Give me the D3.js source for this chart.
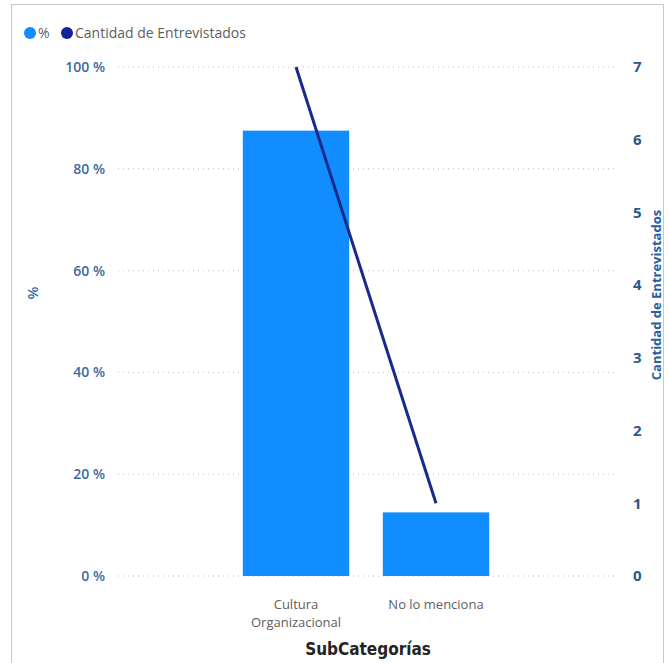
<!DOCTYPE html>
<html lang="es">
<head>
<meta charset="UTF-8">
<title>SubCategorías</title>
<script src="https://d3js.org/d3.v7.min.js"></script>
<style>
  body { margin: 0; background: #fff; }
  svg text { font-family: "Open Sans", "Noto Sans", sans-serif; }
</style>
</head>
<body>
<div id="chart"></div>
<script>
// data
var categories = ["Cultura Organizacional", "No lo menciona"];
var pctValues = [87.5, 12.5];
var countValues = [7, 1];
var pctTicks = [0, 20, 40, 60, 80, 100];
var countTicks = [0, 1, 2, 3, 4, 5, 6, 7];

var width = 668, height = 663;
var plotTop = 67, plotBottom = 576;

var svg = d3.select("#chart").append("svg")
    .attr("width", width)
    .attr("height", height);

// frame
svg.append("rect")
    .attr("x", 11.5).attr("y", 4.5)
    .attr("width", 652).attr("height", 670)
    .attr("fill", "none")
    .attr("stroke", "#c8c8c8");

var x = d3.scaleBand()
    .domain(categories)
    .range([226, 506])
    .paddingInner(0.24)
    .paddingOuter(0.12);

var yPct = d3.scaleLinear().domain([0, 100]).range([plotBottom, plotTop]);
var yCount = d3.scaleLinear().domain([0, 7]).range([plotBottom, plotTop]);

// gridlines
svg.append("g").selectAll("line")
    .data(pctTicks)
    .enter().append("line")
    .attr("x1", 118).attr("x2", 618)
    .attr("y1", function (d) { return yPct(d); })
    .attr("y2", function (d) { return yPct(d); })
    .attr("stroke", "#bdbdbd")
    .attr("stroke-width", 1)
    .attr("stroke-dasharray", "1,4");

// left axis
var leftAxis = svg.append("g")
    .attr("transform", "translate(105,0)")
    .call(d3.axisLeft(yPct).tickValues(pctTicks).tickSize(0).tickPadding(0)
        .tickFormat(function (d) { return d + " %"; }));
leftAxis.select(".domain").remove();
leftAxis.selectAll("text")
    .attr("fill", "#3a6b9f")
    .attr("font-size", 14)
    .attr("font-weight", 600)
    .style("font-family", "'Open Sans', sans-serif");

// right axis
var rightAxis = svg.append("g")
    .attr("transform", "translate(633,0)")
    .call(d3.axisRight(yCount).tickValues(countTicks).tickSize(0).tickPadding(0)
        .tickFormat(d3.format("d")));
rightAxis.select(".domain").remove();
rightAxis.selectAll("text")
    .attr("fill", "#2a5a8a")
    .attr("font-size", 15)
    .attr("font-weight", 700)
    .style("font-family", "'Open Sans', sans-serif");

// bars
svg.append("g").selectAll("rect")
    .data(categories)
    .enter().append("rect")
    .attr("x", function (d) { return x(d); })
    .attr("width", x.bandwidth())
    .attr("y", function (d, i) { return yPct(pctValues[i]); })
    .attr("height", function (d, i) { return plotBottom - yPct(pctValues[i]); })
    .attr("fill", "#118dff");

// line
var line = d3.line()
    .x(function (d) { return x(d) + x.bandwidth() / 2; })
    .y(function (d, i) { return yCount(countValues[i]); });

svg.append("path")
    .datum(categories)
    .attr("d", line)
    .attr("fill", "none")
    .attr("stroke", "#1a2a8c")
    .attr("stroke-width", 3);

// category labels
var catLines = { "Cultura Organizacional": ["Cultura", "Organizacional"], "No lo menciona": ["No lo menciona"] };
svg.append("g").selectAll("text")
    .data(categories)
    .enter().append("text")
    .attr("x", function (d) { return x(d) + x.bandwidth() / 2; })
    .attr("y", 609)
    .attr("text-anchor", "middle")
    .attr("fill", "#605e5c")
    .attr("font-size", 13)
    .each(function (d) {
        var t = d3.select(this);
        catLines[d].forEach(function (s, i) {
            t.append("tspan")
                .attr("x", x(d) + x.bandwidth() / 2)
                .attr("dy", i === 0 ? 0 : 18)
                .text(s);
        });
    });

// axis titles
svg.append("text")
    .attr("x", 368).attr("y", 655)
    .attr("text-anchor", "middle")
    .attr("fill", "#252423")
    .attr("font-size", 17)
    .attr("font-weight", 700)
    .style("font-family", "'DejaVu Sans Condensed', 'Liberation Sans Narrow', sans-serif")
    .text("SubCategorías");

svg.append("text")
    .attr("transform", "translate(38,293) rotate(-90)")
    .attr("text-anchor", "middle")
    .attr("fill", "#2f6aa8")
    .attr("font-size", 15)
    .attr("font-weight", 600)
    .text("%");

svg.append("text")
    .attr("transform", "translate(661,295) rotate(-90)")
    .attr("text-anchor", "middle")
    .attr("fill", "#2460a0")
    .attr("font-size", 13)
    .attr("font-weight", 700)
    .text("Cantidad de Entrevistados");

// legend
var legend = [
    { name: "%", color: "#118dff" },
    { name: "Cantidad de Entrevistados", color: "#12239e" }
];
var lx = [30, 67];
var lg = svg.append("g").selectAll("g")
    .data(legend)
    .enter().append("g")
    .attr("transform", function (d, i) { return "translate(" + lx[i] + ",33)"; });
lg.append("circle")
    .attr("r", 6)
    .attr("fill", function (d) { return d.color; });
lg.append("text")
    .attr("x", 8)
    .attr("y", 5)
    .attr("fill", "#605e5c")
    .attr("font-size", 14)
    .text(function (d) { return d.name; });
</script>
</body>
</html>
